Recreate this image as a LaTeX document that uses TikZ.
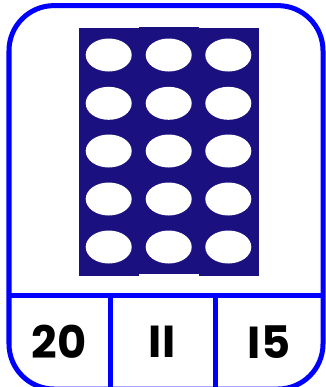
\documentclass[tikz,border=0pt]{standalone}
\usepackage{fontspec}
\usetikzlibrary{shapes.geometric}
\setmainfont{Poppins}
\definecolor{frameblue}{RGB}{0,0,255}
\definecolor{navy}{RGB}{27,16,128}
\begin{document}
\begin{tikzpicture}[x=1bp,y=-1bp,
  frame/.style={draw=frameblue,line width=5bp},
  panel/.style={fill=navy,draw=none},
  hole/.style={fill=white,draw=none,ellipse,minimum width=46bp,minimum height=33bp,inner sep=0pt},
  num/.style={font=\fontsize{45}{45}\bfseries\selectfont,inner sep=0pt,text=black}]
\useasboundingbox (0,0) rectangle (326,387);
\fill[panel] (79,28) rectangle (139,275.7);
\fill[panel] (139,27) rectangle (199,274.3);
\fill[panel] (199,28) rectangle (259,275.7);
\foreach \c/\x in {1/108.7,2/168.7,3/228.3}{
  \foreach \r/\y in {1/55,2/103.3,3/151,4/199,5/247}{
    \node[hole] (h\c\r) at (\x,\y) {};
  }
}
\draw[frame,rounded corners=45bp] (9,5.6) rectangle (323,389);
\coordinate (dl) at (9,295.5);
\coordinate (dr) at (323,295.5);
\draw[frame] (dl) -- (dr);
\coordinate (v1t) at (110.5,295.5);
\coordinate (v1b) at (110.5,392);
\coordinate (v2t) at (215.5,295.5);
\coordinate (v2b) at (215.5,392);
\draw[frame] (v1t) -- (v1b);
\draw[frame] (v2t) -- (v2b);
\node[num] (n1) at (59,342) {20};
\node[num] (n2) at (162,342) {II};
\node[num] (n3) at (269,342) {I5};
\end{tikzpicture}
\end{document}
